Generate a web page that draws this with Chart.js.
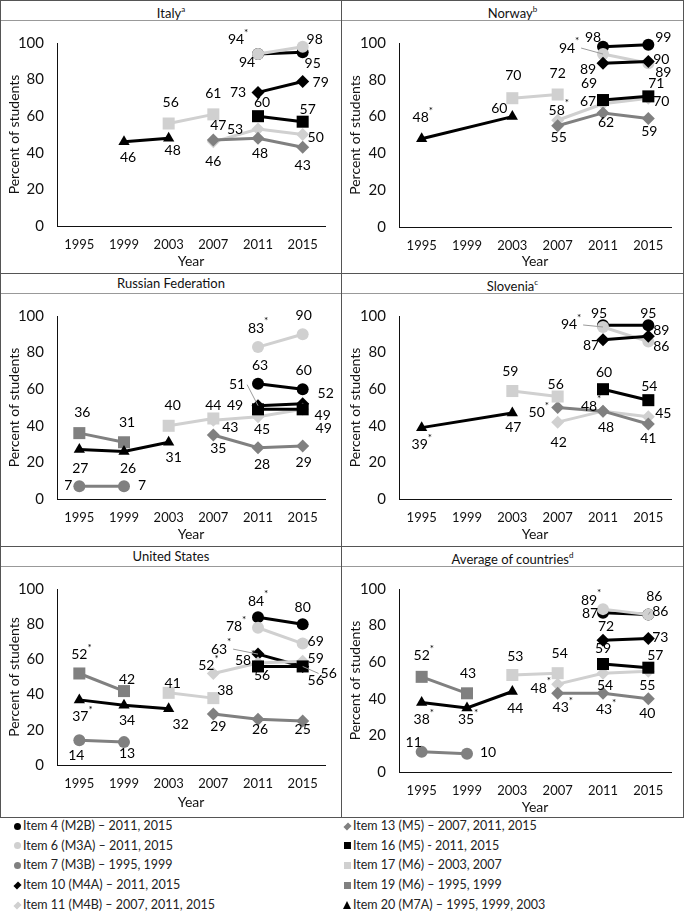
<!DOCTYPE html>
<html>
<head>
<meta charset="utf-8">
<script src="https://cdn.jsdelivr.net/npm/chart.js@4.4.0/dist/chart.umd.min.js"></script>
<style>
  body { margin: 0; background: #fff; font-family: Lato, sans-serif; color: #111; }
  #page { position: relative; width: 685px; height: 918px; overflow: hidden; }
  .frame { position: absolute; left: 0; top: 0; width: 684px; height: 818px; box-sizing: border-box; border: 1px solid #555; }
  .vline { position: absolute; top: 0; left: 341px; width: 1px; height: 818px; background: #555; }
  .hline { position: absolute; left: 0; width: 684px; height: 1px; background: #555; }
  .ttl { position: absolute; height: 20px; line-height: 21px; text-align: center; font-size: 13px; border-bottom: 1px solid #999; box-sizing: content-box; }
  .ttl sup { font-size: 8px; position: relative; top: -1px; }
  canvas { position: absolute; }
  .leg { position: absolute; font-size: 12.5px; line-height: 14px; white-space: nowrap; color: #222; }
  .mk { position: absolute; }
</style>
</head>
<body>
<div id="page">
  <div class="frame"></div>
  <div class="vline"></div>
  <div class="hline" style="top:273px"></div>
  <div class="hline" style="top:546px"></div>
</div>
<script>
const _ = null;
const years = ['1995', '1999', '2003', '2007', '2011', '2015'];
const itemIds = [4, 6, 7, 10, 11, 13, 16, 17, 19, 20];
const itemNames = [
  'Item 4 (M2B) – 2011, 2015',
  'Item 6 (M3A) – 2011, 2015',
  'Item 7 (M3B) – 1995, 1999',
  'Item 10 (M4A) – 2011, 2015',
  'Item 11 (M4B) – 2007, 2011, 2015',
  'Item 13 (M5) – 2007, 2011, 2015',
  'Item 16 (M5) - 2011, 2015',
  'Item 17 (M6) – 2003, 2007',
  'Item 19 (M6) – 1995, 1999',
  'Item 20 (M7A) – 1995, 1999, 2003'
];
const yMax = 100;
const yStep = 20;

// percent of students, one row per item (same order as itemIds), one column per year
const italy = [
  [_, _, _, _, 94, 95],
  [_, _, _, _, 94, 98],
  [_, _, _, _, _, _],
  [_, _, _, _, 73, 79],
  [_, _, _, 46, 53, 50],
  [_, _, _, 47, 48, 43],
  [_, _, _, _, 60, 57],
  [_, _, 56, 61, _, _],
  [_, _, _, _, _, _],
  [_, 46, 48, _, _, _]
];
const norway = [
  [_, _, _, _, 98, 99],
  [_, _, _, _, 94, 89],
  [_, _, _, _, _, _],
  [_, _, _, _, 89, 90],
  [_, _, _, 58, 67, 70],
  [_, _, _, 55, 62, 59],
  [_, _, _, _, 69, 71],
  [_, _, 70, 72, _, _],
  [_, _, _, _, _, _],
  [48, _, 60, _, _, _]
];
const russia = [
  [_, _, _, _, 63, 60],
  [_, _, _, _, 83, 90],
  [7, 7, _, _, _, _],
  [_, _, _, _, 51, 52],
  [_, _, _, 43, 45, 49],
  [_, _, _, 35, 28, 29],
  [_, _, _, _, 49, 49],
  [_, _, 40, 44, _, _],
  [36, 31, _, _, _, _],
  [27, 26, 31, _, _, _]
];
const slovenia = [
  [_, _, _, _, 95, 95],
  [_, _, _, _, 94, 86],
  [_, _, _, _, _, _],
  [_, _, _, _, 87, 89],
  [_, _, _, 42, 48, 45],
  [_, _, _, 50, 48, 41],
  [_, _, _, _, 60, 54],
  [_, _, 59, 56, _, _],
  [_, _, _, _, _, _],
  [39, _, 47, _, _, _]
];
const usa = [
  [_, _, _, _, 84, 80],
  [_, _, _, _, 78, 69],
  [14, 13, _, _, _, _],
  [_, _, _, _, 63, 56],
  [_, _, _, 52, 58, 59],
  [_, _, _, 29, 26, 25],
  [_, _, _, _, 56, 56],
  [_, _, 41, 38, _, _],
  [52, 42, _, _, _, _],
  [37, 34, 32, _, _, _]
];
const average = [
  [_, _, _, _, 87, 86],
  [_, _, _, _, 89, 86],
  [11, 10, _, _, _, _],
  [_, _, _, _, 72, 73],
  [_, _, _, 48, 54, 55],
  [_, _, _, 43, 43, 40],
  [_, _, _, _, 59, 57],
  [_, _, 53, 54, _, _],
  [52, 43, _, _, _, _],
  [38, 35, 44, _, _, _]
];

// significant differences (asterisk), as "item/year"
const italyStars = ['6/2011'];
const norwayStars = ['20/1995', '6/2011', '11/2007'];
const russiaStars = ['6/2011'];
const sloveniaStars = ['6/2011', '11/2011', '13/2007', '20/1995'];
const usaStars = ['4/2011', '6/2011', '10/2011', '11/2007', '11/2011', '19/1995', '20/1995'];
const averageStars = ['6/2011', '11/2007', '13/2007', '13/2011', '19/1995', '20/1995', '20/1999'];

// label placement (dx, dy from the point, optional leader line)
const italyOffsets = {
  4: [[-11, 9], [10, 11]], 6: [[-20, -14], [12, -7]], 10: [[-20, 0], [18, 1]],
  11: [[0, 20], [-23, 0], [13, 3]], 13: [[5, -15], [2, 15], [0, 18]],
  16: [[4, -14], [5, -12]], 17: [[2, -21], [0, -21]], 20: [[4, 16], [4, 12]]
};
const norwayOffsets = {
  4: [[-10, -9], [15, -7]], 6: [[-34, -6, 1], [15, 9]], 10: [[-15, 6], [13, -2]],
  11: [[1, -10], [-15, -2], [13, 3]], 13: [[1, 12], [3, 10], [1, 13]],
  16: [[-14, -17], [8, -13]], 17: [[1, -23], [0, -21]], 20: [[1, -21], [-13, -8]]
};
const russiaOffsets = {
  4: [[2, -18], [1, -19]], 6: [[0, -19], [1, -19]], 7: [[-11, -1], [18, -1]],
  10: [[-21, -21, 1], [23, -10]], 11: [[17, 7], [4, 13], [20, 6]],
  13: [[5, 14], [4, 17], [1, 17]], 16: [[-23, -4], [21, 19]],
  17: [[4, -20], [0, -13]], 19: [[3, -21], [3, -20]], 20: [[1, 19], [4, 17], [5, 15]]
};
const sloveniaOffsets = {
  4: [[-4, -12], [0, -12]], 6: [[-32, -2, 1], [13, 5]], 10: [[-12, 6], [13, -6]],
  11: [[1, 20], [-12, -5], [15, -3]], 13: [[-19, 5], [3, 16], [0, 15]],
  16: [[1, -17], [1, -14]], 17: [[-2, -20], [-2, -12]], 20: [[0, 17], [1, 14]]
};
const usaOffsets = {
  4: [[0, -16], [0, -17]], 6: [[-22, -1], [13, -2]], 7: [[-3, 15], [3, 11]],
  10: [[-37, -5, 1], [26, 7, 1]], 11: [[-5, -8], [-13, -2], [13, -3]],
  13: [[5, 13], [2, 10], [0, 8]], 16: [[4, 9], [13, 14]], 17: [[4, -9], [12, -8]],
  19: [[2, -19], [3, -12]], 20: [[3, 17], [3, 15], [12, 16]]
};
const averageOffsets = {
  4: [[-13, 1], [12, -3, 1]], 6: [[-12, -9], [6, -18]], 7: [[-8, -9], [21, -1]],
  10: [[3, -14], [12, -1]], 11: [[-17, 4], [2, 12], [-1, 14]],
  13: [[5, 14], [3, 16], [-1, 15]], 16: [[0, -16], [7, -12]],
  17: [[3, -19], [2, -20]], 19: [[2, -21], [1, -20]], 20: [[2, 17], [1, 12], [3, 17]]
};

const LIGHT = '#d0d0d0';
const MID = '#808080';
const itemColors = ['#000', LIGHT, MID, '#000', LIGHT, MID, '#000', LIGHT, MID, '#000'];
const itemShapes = ['circle', 'circle', 'circle', 'rectRot', 'rectRot', 'rectRot', 'rect', 'rect', 'rect', 'triangle'];
const itemRadius = [6, 6, 6, 6.5, 6.5, 6.5, 8.5, 8.5, 8.5, 6.5];

const panels = [
  { title: 'Italy', sup: 'a', values: italy, stars: italyStars, offsets: italyOffsets, col: 0, row: 0, top: 17, xh: 47, tpad: 3 },
  { title: 'Norway', sup: 'b', values: norway, stars: norwayStars, offsets: norwayOffsets, col: 1, row: 0, top: 17, xh: 46, tpad: 3 },
  { title: 'Russian Federation', sup: '', values: russia, stars: russiaStars, offsets: russiaOffsets, col: 0, row: 1, top: 16, xh: 47, tpad: 3 },
  { title: 'Slovenia', sup: 'c', values: slovenia, stars: sloveniaStars, offsets: sloveniaOffsets, col: 1, row: 1, top: 18, xh: 47, tpad: 3 },
  { title: 'United States', sup: '', values: usa, stars: usaStars, offsets: usaOffsets, col: 0, row: 2, top: 17, xh: 53, tpad: 7 },
  { title: 'Average of countries', sup: 'd', values: average, stars: averageStars, offsets: averageOffsets, col: 1, row: 2, top: 16, xh: 46, tpad: 2 }
];
const rowTops = [0, 273, 546];
const rowBottoms = [273, 546, 818];
const colLefts = [1, 342];
const colWidths = [340, 341];

// draws the value labels next to each point
const pointLabels = {
  id: 'pointLabels',
  afterDatasetsDraw(chart) {
    const opts = chart.options.plugins.pointLabels;
    const ctx = chart.ctx;
    ctx.save();
    chart.data.datasets.forEach((ds, i) => {
      const meta = chart.getDatasetMeta(i);
      const offs = opts.offsets[ds.item] || [];
      let k = 0;
      meta.data.forEach((pt, j) => {
        const v = ds.data[j];
        if (v == null) return;
        const off = offs[k++] || [0, -16];
        const txt = String(v);
        ctx.font = '14px Lato';
        const w = ctx.measureText(txt).width;
        const starred = opts.stars.includes(ds.item + '/' + years[j]);
        const lx = pt.x + off[0] - (starred ? 2 : 0);
        const ly = pt.y + off[1];
        if (off[2]) {
          ctx.strokeStyle = '#9a9a9a';
          ctx.lineWidth = 1;
          ctx.beginPath();
          const sx = off[0] < 0 ? lx + w / 2 + (starred ? 6 : 2) : lx - w / 2 - 2;
          ctx.moveTo(sx, ly);
          ctx.lineTo(pt.x, pt.y);
          ctx.stroke();
        }
        ctx.fillStyle = '#000';
        ctx.textAlign = 'center';
        ctx.textBaseline = 'middle';
        ctx.fillText(txt, lx, ly);
        if (starred) {
          ctx.font = '10px Lato';
          ctx.textAlign = 'left';
          ctx.fillText('*', lx + w / 2, ly - 7);
        }
      });
    });
    ctx.restore();
  }
};

const page = document.getElementById('page');

panels.forEach((p) => {
  const left = colLefts[p.col];
  const width = colWidths[p.col];
  const top = rowTops[p.row];

  const t = document.createElement('div');
  t.className = 'ttl';
  t.style.left = left + 'px';
  t.style.top = top + 'px';
  t.style.width = width + 'px';
  t.innerHTML = p.title + (p.sup ? '<sup>' + p.sup + '</sup>' : '');
  page.appendChild(t);

  const cv = document.createElement('canvas');
  const h = rowBottoms[p.row] - top - 21;
  cv.width = width;
  cv.height = h;
  cv.style.left = left + 'px';
  cv.style.top = (top + 21) + 'px';
  page.appendChild(cv);

  const yw = p.col === 0 ? 56 : 57;
  const padRight = p.col === 0 ? 16 : 12;

  new Chart(cv.getContext('2d'), {
    type: 'line',
    data: {
      labels: years,
      datasets: p.values.map((row, i) => ({
        item: itemIds[i],
        label: itemNames[i],
        data: row,
        borderColor: itemColors[i],
        backgroundColor: itemColors[i],
        pointStyle: itemShapes[i],
        pointRadius: itemRadius[i],
        pointHoverRadius: itemRadius[i],
        pointBorderWidth: 0,
        borderWidth: 3,
        spanGaps: true,
        tension: 0,
        clip: false,
        order: p.values.length - i
      }))
    },
    options: {
      responsive: false,
      animation: false,
      events: [],
      layout: { padding: { top: p.top, right: padRight, bottom: 0, left: 0 } },
      plugins: {
        legend: { display: false },
        tooltip: { enabled: false },
        pointLabels: { offsets: p.offsets, stars: p.stars }
      },
      scales: {
        x: {
          offset: true,
          grid: { display: false, drawTicks: false },
          border: { display: true, color: '#111', width: 1 },
          ticks: { color: '#111', font: { family: 'Lato', size: 13 }, padding: 11, maxRotation: 0 },
          title: { display: true, text: 'Year', color: '#111', font: { family: 'Lato', size: 14 }, padding: { top: 0, bottom: p.tpad } },
          afterFit: (s) => { s.height = p.xh; }
        },
        y: {
          min: 0,
          max: yMax,
          grid: { display: false, drawTicks: false },
          border: { display: true, color: '#111', width: 1 },
          ticks: { stepSize: yStep, color: '#111', font: { family: 'Lato', size: 15 }, padding: 13 },
          title: { display: true, text: 'Percent of students', color: '#111', font: { family: 'Lato', size: 14 }, padding: { top: 5, bottom: 0 } },
          afterFit: (s) => { s.width = yw; }
        }
      }
    },
    plugins: [pointLabels]
  });
});

// shared legend below the panels
const legendRows = [826, 845.5, 865, 885, 905];
itemNames.forEach((name, i) => {
  const col = i < 5 ? 0 : 1;
  const r = i % 5;
  const mx = col === 0 ? 17 : 347;
  const cy = legendRows[r];
  const m = document.createElement('div');
  m.className = 'mk';
  const c = itemColors[i];
  const shape = itemShapes[i];
  if (shape === 'circle') {
    Object.assign(m.style, { left: (mx - 3.5) + 'px', top: (cy - 3.5) + 'px', width: '7px', height: '7px', borderRadius: '50%', background: c });
  } else if (shape === 'rectRot') {
    Object.assign(m.style, { left: (mx - 2.5) + 'px', top: (cy - 2.5) + 'px', width: '5px', height: '5px', background: c, transform: 'rotate(45deg) scaleY(1.3)' });
  } else if (shape === 'rect') {
    Object.assign(m.style, { left: (mx - 3.5) + 'px', top: (cy - 3.5) + 'px', width: '7px', height: '7px', background: c });
  } else {
    Object.assign(m.style, { left: (mx - 4) + 'px', top: (cy - 4) + 'px', width: '0', height: '0', borderLeft: '4px solid transparent', borderRight: '4px solid transparent', borderBottom: '8px solid ' + c });
  }
  page.appendChild(m);
  const t = document.createElement('div');
  t.className = 'leg';
  t.style.left = (mx + 6) + 'px';
  t.style.top = (cy - 7) + 'px';
  t.textContent = name;
  page.appendChild(t);
});
</script>
</body>
</html>
